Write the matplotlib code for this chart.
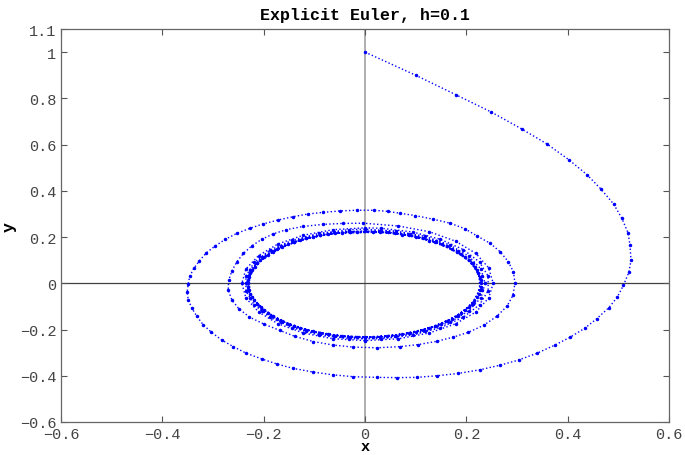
import matplotlib
matplotlib.use('Agg')
import matplotlib.pyplot as plt

# trajectory points, in drawing order
lead_x = [0, 0.1, 0.18, 0.249, 0.309, 0.359, 0.402, 0.438, 0.466, 0.491, 0.507, 0.519, 0.523, 0.525,
          0.521, 0.510, 0.498, 0.481, 0.457, 0.434, 0.405, 0.375, 0.339, 0.303, 0.267, 0.227, 0.184,
          0.142, 0.102, 0.063, 0.023, -0.023, -0.063, -0.102, -0.142, -0.174, -0.204, -0.234, -0.26,
          -0.283, -0.303, -0.319, -0.332, -0.342, -0.349, -0.351, -0.349, -0.346, -0.338, -0.327,
          -0.313, -0.296, -0.276, -0.253, -0.227, -0.201, -0.171, -0.142, -0.112, -0.082, -0.049,
          -0.016, 0.018, 0.045, 0.069, 0.099, 0.135, 0.168, 0.197, 0.221, 0.247, 0.267, 0.283, 0.293,
          0.296, 0.292, 0.28, 0.26, 0.234, 0.204, 0.174, 0.142, 0.105, 0.069, 0.023, -0.023, -0.063,
          -0.102, -0.138, -0.168, -0.2, -0.228, -0.249, -0.263, -0.27, -0.269, -0.263, -0.253, -0.24,
          -0.224, -0.204, -0.181, -0.155, -0.122, -0.082, -0.043, -0.003]
lead_y = [1, 0.9, 0.815, 0.741, 0.668, 0.603, 0.535, 0.47, 0.407, 0.342, 0.281, 0.219, 0.165, 0.10,
          0.049, -0.009, -0.06, -0.106, -0.154, -0.194, -0.233, -0.267, -0.303, -0.332, -0.354, -0.374,
          -0.39, -0.40, -0.407, -0.408, -0.407, -0.404, -0.396, -0.384, -0.368, -0.349, -0.327, -0.303,
          -0.274, -0.245, -0.212, -0.18, -0.143, -0.106, -0.071, -0.038, -0.004, 0.03, 0.064, 0.097,
          0.132, 0.161, 0.19, 0.216, 0.238, 0.257, 0.274, 0.288, 0.30, 0.307, 0.313, 0.316, 0.316,
          0.311, 0.303, 0.293, 0.277, 0.26, 0.236, 0.205, 0.173, 0.136, 0.093, 0.049, 0.001, -0.052,
          -0.1, -0.143, -0.182, -0.212, -0.233, -0.251, -0.265, -0.274, -0.279, -0.276, -0.267, -0.252,
          -0.23, -0.204, -0.176, -0.146, -0.11, -0.071, -0.028, 0.013, 0.052, 0.093, 0.129, 0.161,
          0.19, 0.214, 0.232, 0.246, 0.255, 0.259, 0.26]

loop3_x = [0.066, 0.127, 0.179, 0.219, 0.244, 0.253, 0.244, 0.219, 0.179, 0.127, 0.066, 0,
           -0.063, -0.122, -0.172, -0.210, -0.235, -0.243, -0.235, -0.210, -0.172, -0.122, -0.063, 0]
loop3_y = [0.248, 0.223, 0.182, 0.129, 0.067, 0, -0.064, -0.124, -0.175, -0.215, -0.240, -0.248,
           -0.240, -0.215, -0.175, -0.124, -0.064, 0, 0.062, 0.12, 0.170, 0.208, 0.232, 0.24]

loop4_x = [0.032, 0.094, 0.149, 0.194, 0.226, 0.243, 0.243, 0.226, 0.194, 0.149, 0.094, 0.032,
           -0.031, -0.091, -0.144, -0.188, -0.219, -0.235, -0.235, -0.219, -0.188, -0.144, -0.091, -0.031]
loop4_y = [0.238, 0.222, 0.190, 0.146, 0.092, 0.031, -0.032, -0.093, -0.147, -0.192, -0.224, -0.240,
           -0.240, -0.224, -0.192, -0.147, -0.093, -0.032, 0.031, 0.090, 0.143, 0.186, 0.216, 0.232]

loop5_x = [0, 0.061, 0.119, 0.168, 0.205, 0.229, 0.237, 0.229, 0.205, 0.168, 0.119, 0.061, 0,
           -0.061, -0.117, -0.165, -0.203, -0.226, -0.234, -0.226, -0.203, -0.165, -0.117, -0.061]
loop5_y = [0.234, 0.226, 0.203, 0.165, 0.117, 0.061, 0, -0.062, -0.119, -0.168, -0.206, -0.230, -0.238,
           -0.230, -0.206, -0.168, -0.119, -0.062, 0, 0.059, 0.115, 0.162, 0.198, 0.221]

loop6_x = [0.030, 0.089, 0.141, 0.184, 0.214, 0.230, 0.230, 0.214, 0.184, 0.141, 0.089, 0.030,
           -0.030, -0.089, -0.141, -0.184, -0.214, -0.230, -0.230, -0.214, -0.184, -0.141, -0.089, -0.030]
loop6_y = [0.227, 0.212, 0.182, 0.139, 0.088, 0.030, -0.031, -0.090, -0.143, -0.186, -0.217, -0.233,
           -0.233, -0.217, -0.186, -0.143, -0.090, -0.031, 0.030, 0.087, 0.138, 0.179, 0.209, 0.224]

loop7_x = [0, 0.059, 0.115, 0.162, 0.198, 0.221, 0.229, 0.221, 0.198, 0.162, 0.115, 0.059, 0,
           -0.060, -0.116, -0.163, -0.200, -0.223, -0.231, -0.223, -0.200, -0.163, -0.116, -0.060]
loop7_y = [0.226, 0.218, 0.196, 0.160, 0.113, 0.058, 0, -0.061, -0.117, -0.165, -0.203, -0.226, -0.234,
           -0.226, -0.203, -0.165, -0.117, -0.061, 0, 0.058, 0.112, 0.158, 0.194, 0.216]

loop8_x = [0.030, 0.087, 0.139, 0.181, 0.211, 0.226, 0.226, 0.211, 0.181, 0.139, 0.087, 0.030,
           -0.030, -0.088, -0.140, -0.182, -0.213, -0.228, -0.228, -0.213, -0.182, -0.140, -0.088, -0.030]
loop8_y = [0.222, 0.207, 0.178, 0.136, 0.086, 0.029, -0.031, -0.089, -0.142, -0.185, -0.215, -0.231,
           -0.231, -0.215, -0.185, -0.142, -0.089, -0.031, 0.029, 0.086, 0.136, 0.178, 0.207, 0.222]

loop9_x = [0.015, 0.073, 0.127, 0.171, 0.205, 0.224, 0.228, 0.216, 0.189, 0.150, 0.101, 0.044,
           -0.015, -0.074, -0.128, -0.173, -0.206, -0.226, -0.230, -0.218, -0.191, -0.152, -0.102, -0.045]
loop9_y = [0.223, 0.211, 0.185, 0.147, 0.099, 0.043, -0.015, -0.075, -0.130, -0.175, -0.209, -0.229,
           -0.233, -0.221, -0.194, -0.154, -0.103, -0.045, 0.015, 0.072, 0.124, 0.168, 0.200, 0.219]

loop10_x = [0.045, 0.101, 0.151, 0.190, 0.217, 0.229, 0.225, 0.205, 0.172, 0.127, 0.074, 0.015,
            -0.045, -0.102, -0.152, -0.192, -0.219, -0.231, -0.227, -0.207, -0.174, -0.128, -0.074, -0.015]
loop10_y = [0.220, 0.201, 0.168, 0.125, 0.072, 0.015, -0.045, -0.103, -0.153, -0.193, -0.220, -0.232,
            -0.228, -0.208, -0.174, -0.129, -0.074, -0.015, 0.044, 0.099, 0.148, 0.186, 0.212, 0.224]

xs = lead_x + loop3_x + loop4_x + loop5_x + loop6_x + loop7_x + loop8_x + loop9_x + loop10_x
ys = lead_y + loop3_y + loop4_y + loop5_y + loop6_y + loop7_y + loop8_y + loop9_y + loop10_y

x_ticks = [-0.6, -0.4, -0.2, 0, 0.2, 0.4, 0.6]
x_labels = ['\u22120.6', '\u22120.4', '\u22120.2', '0', '0.2', '0.4', '0.6']
y_ticks = [-0.6, -0.4, -0.2, 0, 0.2, 0.4, 0.6, 0.8, 1, 1.1]
y_labels = ['\u22120.6', '\u22120.4', '\u22120.2', '0', '0.2', '0.4', '0.6', '0.8', '1', '1.1']

plt.rcParams['font.family'] = ['Liberation Mono', 'DejaVu Sans Mono']

fig = plt.figure(figsize=(6.85, 4.56), dpi=100)
ax = fig.add_axes([61 / 685, 1 - 423 / 456, 608 / 685, 393 / 456])

ax.axvline(0, color='#a8a8a8', lw=1.3, zorder=1)
ax.axhline(0, color='#404040', lw=0.9, zorder=1)
ax.plot(xs, ys, linestyle=':', color='blue', lw=1.0, marker='.', markersize=3.0, zorder=2)

ax.set_xlim(-0.6, 0.6)
ax.set_ylim(-0.6, 1.1)
ax.set_xticks(x_ticks)
ax.set_xticklabels(x_labels)
ax.set_yticks(y_ticks)
ax.set_yticklabels(y_labels)
ax.tick_params(direction='in', length=4.5, top=True, right=True, labelsize=11,
               colors='#555555', labelcolor='#444444', width=0.8)
for s in ax.spines.values():
    s.set_color('#666666')
    s.set_linewidth(0.9)

ax.set_title('Explicit Euler, h=0.1', fontsize=12, fontweight='bold', pad=7)
ax.set_xlabel('x', fontsize=11, fontweight='bold', labelpad=-1)
ax.set_ylabel('y', fontsize=12, fontweight='bold', labelpad=2)

plt.savefig('out.png', dpi=100)
